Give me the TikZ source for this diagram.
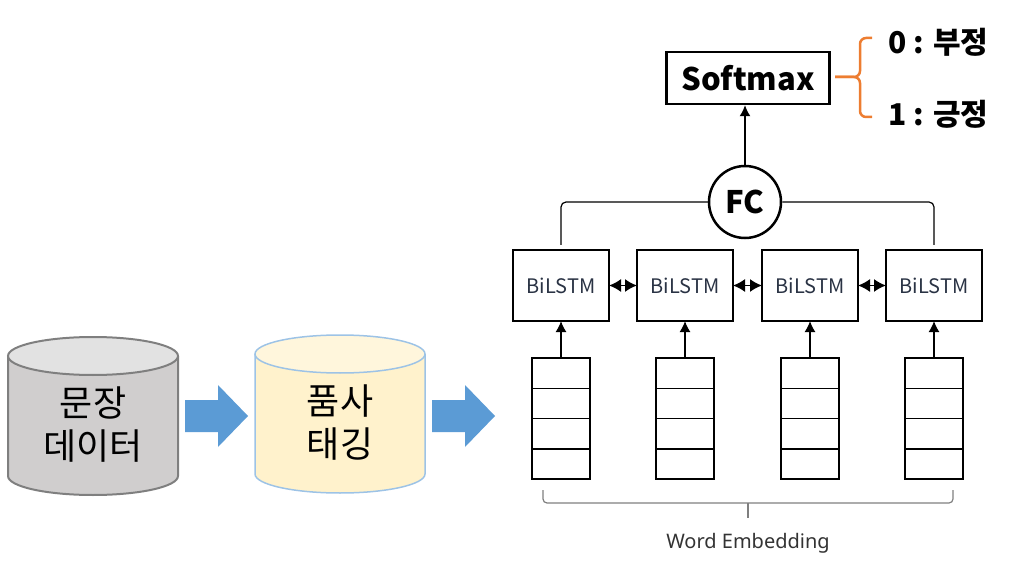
\documentclass[tikz,border=0pt]{standalone}
\usepackage{fontspec}
\setmainfont{Noto Sans}
\newfontfamily\kor{Noto Sans CJK KR}
\usetikzlibrary{arrows.meta}
\definecolor{cylline}{HTML}{7F7F7F}
\definecolor{cylbody}{HTML}{D0CECE}
\definecolor{cyltop}{HTML}{E2E2E2}
\definecolor{tagline}{HTML}{9DC3E6}
\definecolor{tagfill}{HTML}{FFF2CC}
\definecolor{tagtop}{HTML}{FFF6DC}
\definecolor{flow}{HTML}{5B9BD5}
\definecolor{bracecol}{HTML}{ED7D31}
\definecolor{lstmtext}{HTML}{2A3344}
\begin{document}
\begin{tikzpicture}[x=1pt, y=-1pt, >={Latex[length=11pt,width=11pt]},
  every node/.style={inner sep=0pt},
  dbtext/.style={font=\kor\fontsize{36}{43}\selectfont, align=center},
  lstmbox/.style={draw, line width=2.5pt, outer sep=0pt, minimum width=96pt, minimum height=71pt, font=\kor\fontsize{20}{24}\selectfont, text=lstmtext},
  embbox/.style={draw, line width=2.5pt, outer sep=0pt, minimum width=58pt, minimum height=121pt},
  linkarrow/.style={{Latex[length=12pt,width=13pt]}-{Latex[length=12pt,width=13pt]}, line width=1.5pt},
  boldtext/.style={font=\kor\bfseries\fontsize{30}{36}\selectfont}]
\useasboundingbox (0,0) rectangle (1020,561);

% sentence data
\path[fill=cylbody, draw=cylline, line width=2pt] (8,356) -- (8,476) arc[start angle=180, end angle=0, x radius=85, y radius=19] -- (178,356);
\draw[fill=cyltop, draw=cylline, line width=2pt] (93,356) ellipse[x radius=85, y radius=19];
\node[dbtext] (data) at (93,425) {문장\\데이터};

% pos tagging
\path[fill=tagfill, draw=tagline, line width=1.5pt] (255,354) -- (255,474) arc[start angle=180, end angle=0, x radius=85, y radius=19] -- (425,354);
\draw[fill=tagtop, draw=tagline, line width=1.5pt] (340,354) ellipse[x radius=85, y radius=19];
\node[dbtext] (tag) at (340,423) {품사\\태깅};

% block arrows
\fill[flow] (185,400) -- (218,400) -- (218,385) -- (248,416) -- (218,447) -- (218,432) -- (185,432) -- cycle;
\fill[flow] (432,400) -- (465,400) -- (465,385) -- (495,416) -- (465,447) -- (465,432) -- (432,432) -- cycle;

% embeddings and BiLSTM cells
\foreach \i/\x in {1/561,2/685,3/810,4/934}{
  \node[embbox] (emb\i) at (\x,418.5) {};
  \foreach \k in {1,2,3}
    \draw[line width=1.5pt] ([yshift=-\k*30.25pt]emb\i.north west) -- ([yshift=-\k*30.25pt]emb\i.north east);
  \node[lstmbox] (lstm\i) at (\x,285.5) {BiLSTM};
  \draw[->, line width=1.5pt] (emb\i) -- (lstm\i);
}
\draw[linkarrow] (lstm1) -- (lstm2);
\draw[linkarrow] (lstm2) -- (lstm3);
\draw[linkarrow] (lstm3) -- (lstm4);

\draw[cylline, line width=1.2pt, rounded corners=4pt] (543,490) -- (543,503) -- (953,503) -- (953,490);
\draw[cylline, line width=1.2pt] (748,503) -- (748,518);
\node[font=\fontsize{20}{24}\selectfont, text=black!80] (wemb) at (748,543) {Word Embedding};

% FC and softmax
\node[draw, circle, line width=2.5pt, minimum size=72pt, font=\kor\bfseries\fontsize{31}{36}\selectfont] (fc) at (745,202) {FC};
\draw[line width=1.2pt, rounded corners=5pt] ([yshift=5pt]lstm1.north) |- (fc.west);
\draw[line width=1.2pt, rounded corners=5pt] ([yshift=5pt]lstm4.north) |- (fc.east);
\node[draw, line width=2.5pt, minimum width=163pt, minimum height=52pt, font=\kor\bfseries\fontsize{31}{36}\selectfont] (soft) at (748,78) {Softmax};
\draw[->, line width=1.2pt] (fc.north) -- (fc.north |- soft.south);

% output classes
\draw[bracecol, line width=2.5pt, rounded corners=6pt] (872,38) -- (860,38) -- (860,77) -- (835,77);
\draw[bracecol, line width=2.5pt, rounded corners=6pt] (872,117) -- (860,117) -- (860,77) -- (835,77);
\node[boldtext, anchor=west] (neg) at (888,42) {0 : 부정};
\node[boldtext, anchor=west] (pos) at (888,114) {1 : 긍정};
\end{tikzpicture}
\end{document}
